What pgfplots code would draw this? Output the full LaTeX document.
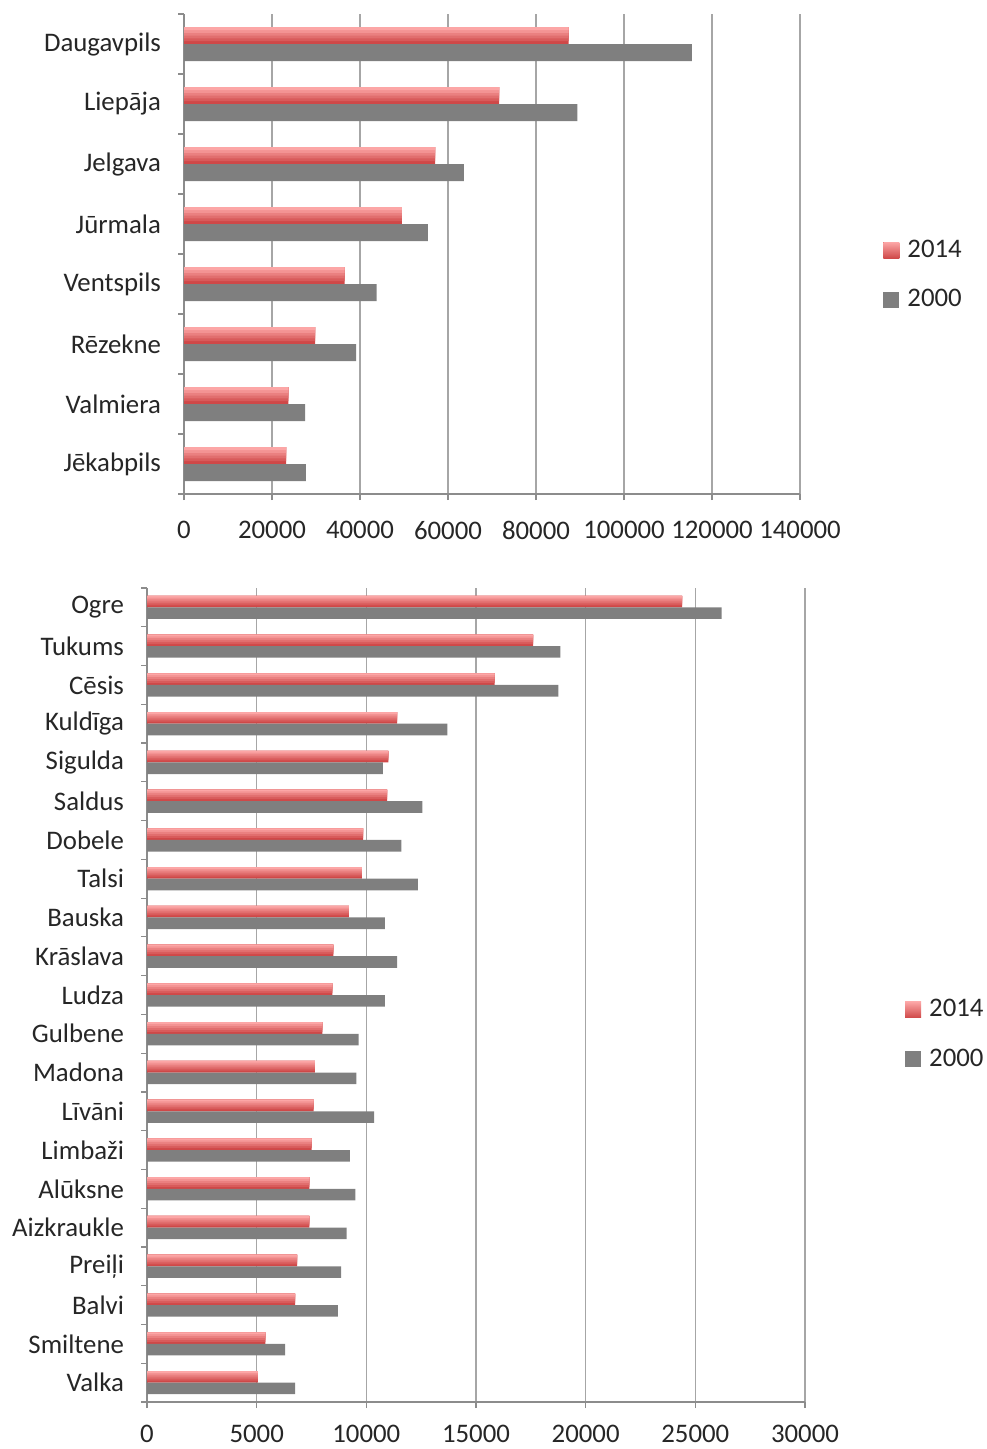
\documentclass[border=0pt]{standalone}
\usepackage{pgfplots}
\pgfplotsset{compat=1.18}
\usepackage{fontspec}
\setmainfont{Carlito}

\definecolor{gridc}{HTML}{A6A6A6}
\definecolor{axc}{HTML}{8C8C8C}
\definecolor{redA}{HTML}{FCA6A6}
\definecolor{redD}{HTML}{CF4848}
\colorlet{redS1}{redA!20!redD}
\colorlet{redS2}{redA!40!redD}
\colorlet{redS3}{redA!60!redD}
\colorlet{redS4}{redA!80!redD}
\definecolor{grayb}{HTML}{7F7F7F}
\definecolor{txt}{HTML}{262626}

\pgfplotsset{
  cityaxis/.style={
    scale only axis,
    xbar,
    axis lines=left,
    axis line style={-, axc, line width=0.6pt},
    xmin=0, ymin=-0.5,
    enlarge y limits=false,
    xmajorgrids,
    major grid style={gridc, line width=0.6pt},
    major tick length=0pt,
    minor tick length=3pt,
    tick align=outside,
    tick style={axc, line width=0.6pt},
    scaled x ticks=false,
    ticklabel style={font=\fontsize{13.4}{15}\selectfont, text=txt},
    yticklabel style={xshift=-8pt},
    xticklabel style={inner ysep=0.5pt, yshift=-12.8pt,
      /pgf/number format/fixed,
      /pgf/number format/set thousands separator={},
      /pgf/number format/assume math mode=true},
    legend style={draw=none, fill=none, font=\fontsize{13.4}{15}\selectfont, text=txt,
      row sep=10.5pt, anchor=west},
    legend cell align=left,
  },
  red14/.style={draw=none, fill=redD,
    legend image code/.code={
      \shade[top color=redA, bottom color=redD] (0pt,-4pt) rectangle (8pt,4pt);
      \path (10pt,0pt);}},
  gray00/.style={draw=none, fill=grayb,
    legend image code/.code={\fill[grayb] (0pt,-4pt) rectangle (8pt,4pt);
      \path (10pt,0pt);}},
  % stripes that give the 2014 bars their light-to-dark look
  stripe/.style={draw=none, forget plot, fill=#1},
}

\begin{document}
\begin{tikzpicture}
\useasboundingbox (0pt,0pt) rectangle (493pt,-724.5pt);

\pgfplotstableread{
y   v14    v00
7   87400  115400
6   71600  89400
5   57100  63600
4   49500  55400
3   36500  43800
2   29800  39100
1   23700  27500
0   23200  27700
}\bigtab

\pgfplotstableread{
y   v14    v00
20  24400  26200
19  17600  18850
18  15850  18750
17  11400  13700
16  11000  10750
15  10950  12550
14  9850   11600
13  9800   12350
12  9200   10850
11  8500   11400
10  8450   10850
9   8000   9650
8   7650   9550
7   7600   10350
6   7500   9250
5   7400   9500
4   7400   9100
3   6850   8850
2   6750   8700
1   5400   6300
0   5050   6750
}\smalltab

% big cities
\begin{axis}[cityaxis,
  at={(92pt,-247pt)}, anchor=south west,
  width=308pt, height=240pt,
  xmax=140000, ymax=7.5,
  xtick={0,20000,...,140000},
  minor xtick={0,20000,...,140000},
  ytick={0,...,7},
  minor ytick={-0.5,0.5,...,7.5},
  yticklabels={Jēkabpils, Valmiera, Rēzekne, Ventspils, Jūrmala, Jelgava, Liepāja, Daugavpils},
  legend style={at={(1.125,0.4565)}},
]
\addplot[red14, bar width=8.5pt, bar shift=4.25pt] table[x=v14, y=y] {\bigtab};
\addplot[gray00, bar width=8.5pt, bar shift=-4.25pt] table[x=v00, y=y] {\bigtab};
\addplot[stripe=redS1, bar width=7.1pt, bar shift=4.95pt] table[x=v14, y=y] {\bigtab};
\addplot[stripe=redS2, bar width=5.7pt, bar shift=5.65pt] table[x=v14, y=y] {\bigtab};
\addplot[stripe=redS3, bar width=4.3pt, bar shift=6.35pt] table[x=v14, y=y] {\bigtab};
\addplot[stripe=redS4, bar width=2.9pt, bar shift=7.05pt] table[x=v14, y=y] {\bigtab};
\addplot[stripe=redA, bar width=1.5pt, bar shift=7.75pt] table[x=v14, y=y] {\bigtab};
\legend{2014, 2000}
\end{axis}

% smaller towns
\begin{axis}[cityaxis,
  at={(73.5pt,-701pt)}, anchor=south west,
  width=329pt, height=407pt,
  xmax=30000, ymax=20.5,
  xtick={0,5000,...,30000},
  minor xtick={0,5000,...,30000},
  ytick={0,...,20},
  minor ytick={-0.5,0.5,...,20.5},
  yticklabels={Valka, Smiltene, Balvi, Preiļi, Aizkraukle, Alūksne, Limbaži, Līvāni,
    Madona, Gulbene, Ludza, Krāslava, Bauska, Talsi, Dobele, Saldus, Sigulda,
    Kuldīga, Cēsis, Tukums, Ogre},
  xticklabel style={yshift=2pt},
  legend style={at={(1.1425,0.4515)}},
]
\addplot[red14, bar width=5.8pt, bar shift=2.9pt] table[x=v14, y=y] {\smalltab};
\addplot[gray00, bar width=5.8pt, bar shift=-2.9pt] table[x=v00, y=y] {\smalltab};
\addplot[stripe=redS1, bar width=4.8pt, bar shift=3.4pt] table[x=v14, y=y] {\smalltab};
\addplot[stripe=redS2, bar width=3.8pt, bar shift=3.9pt] table[x=v14, y=y] {\smalltab};
\addplot[stripe=redS3, bar width=2.8pt, bar shift=4.4pt] table[x=v14, y=y] {\smalltab};
\addplot[stripe=redS4, bar width=1.8pt, bar shift=4.9pt] table[x=v14, y=y] {\smalltab};
\addplot[stripe=redA, bar width=0.9pt, bar shift=5.35pt] table[x=v14, y=y] {\smalltab};
\legend{2014, 2000}
\end{axis}
\end{tikzpicture}
\end{document}
